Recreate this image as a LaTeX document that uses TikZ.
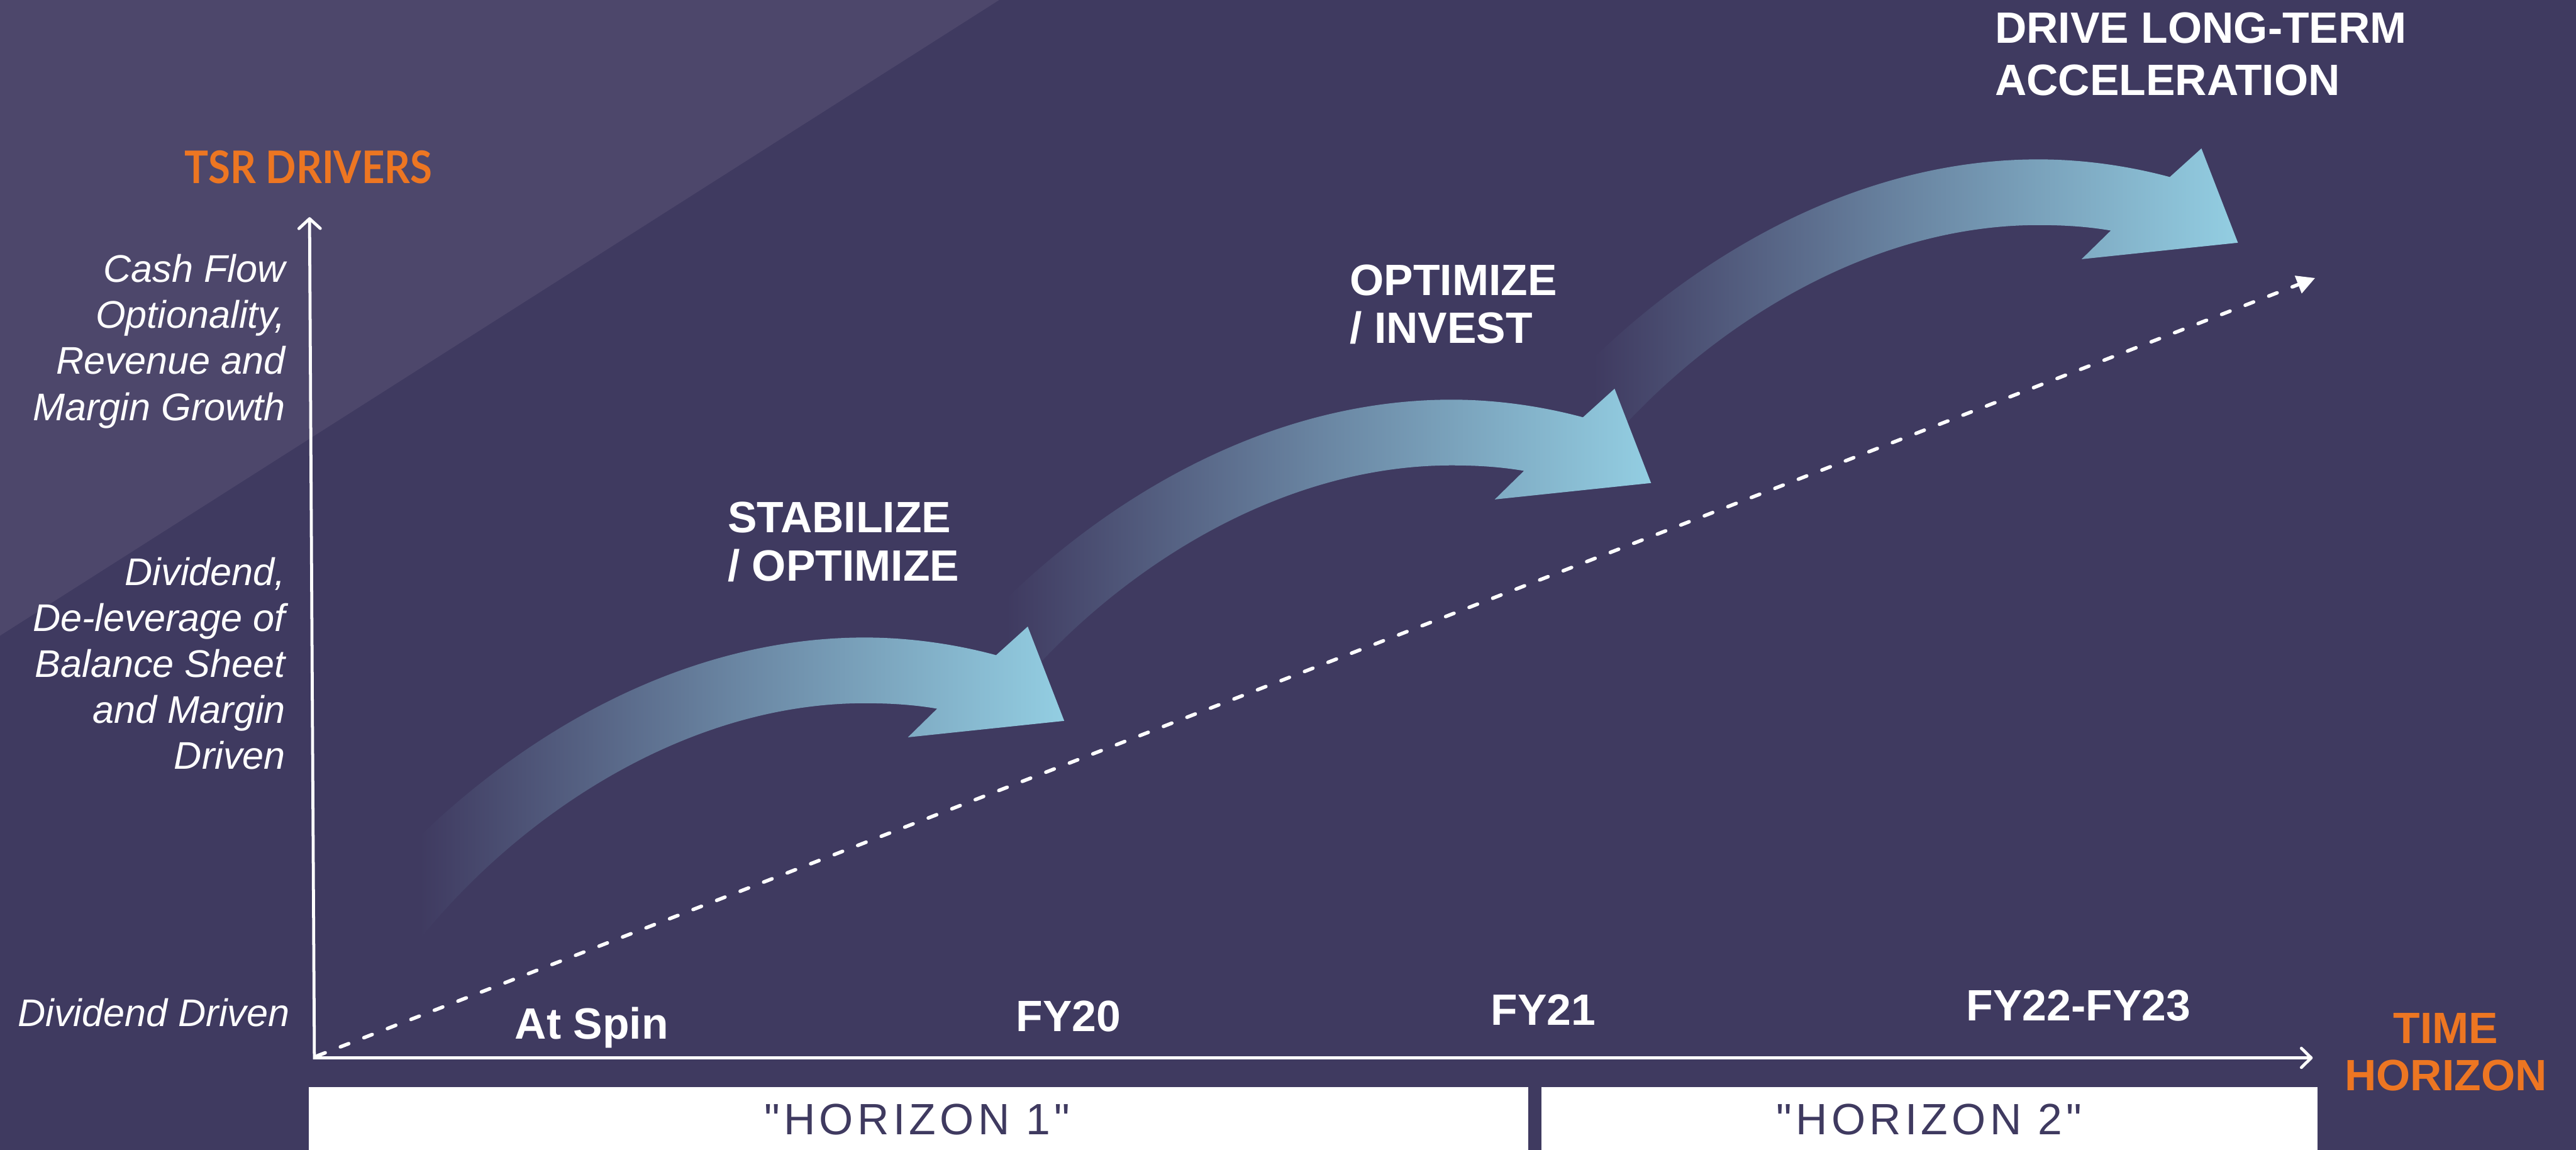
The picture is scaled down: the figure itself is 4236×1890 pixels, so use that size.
\documentclass[tikz,border=0pt]{standalone}
\usepackage{fontspec}
\setmainfont{Liberation Sans}
\newfontfamily\headfont{Lato}[FakeStretch=0.89]
\newfontfamily\spacedfont{Liberation Sans}[LetterSpace=9]
\usetikzlibrary{arrows.meta}

\definecolor{bgdark}{HTML}{3F3A60}
\definecolor{bglight}{HTML}{4D476B}
\definecolor{accent}{HTML}{ED7622}
\definecolor{arrowblue}{HTML}{93CEE2}
\colorlet{arrowmid}{bgdark!50!arrowblue}

% fades from the background into light blue along the arrow
\pgfdeclarehorizontalshading{arrowfade}{100bp}{%
  color(0bp)=(bgdark); color(27bp)=(bgdark);
  color(50bp)=(arrowmid); color(75bp)=(arrowblue); color(100bp)=(arrowblue)}

\tikzset{
  axislbl/.style={text=white, font=\fontsize{18}{21.5}\selectfont\itshape, inner sep=0pt, anchor=base east},
  phase/.style={text=white, font=\fontsize{20.5}{#1}\selectfont\bfseries, inner sep=0pt, anchor=base west},
  phase/.default=22.8pt,
  tick/.style={text=white, font=\fontsize{20.5}{24}\selectfont\bfseries, inner sep=0pt, anchor=base},
  bandlbl/.style={text=bgdark, font=\spacedfont\fontsize{20.5}{24}\selectfont, inner sep=0pt, anchor=base},
  axisline/.style={white, line width=1.4pt, line join=miter,
    arrows={Straight Barb[length=4.6pt, width=10pt, round]-Straight Barb[length=4.6pt, width=9pt, round]}},
  trend/.style={white, line width=1.65pt, line cap=round, dash pattern=on 4.2pt off 7.6pt,
    -{Triangle[length=8.5pt, width=8.5pt]}},
  growth arrow/.pic={
    \shade[shading=arrowfade] (646,1419)
      .. controls (846,1209) and (1122,1048) .. (1422,1048)
      .. controls (1500,1048) and (1575,1060) .. (1638,1077)
      -- (1690,1030) -- (1750,1185) -- (1493,1212) -- (1541,1165)
      .. controls (1500,1158) and (1460,1156) .. (1422,1156)
      .. controls (1122,1156) and (849,1347) .. (692,1542)
      -- cycle;
  },
}

\begin{document}
\begin{tikzpicture}[x=0.01cm, y=-0.01cm]
  % canvas and the lighter corner band
  \useasboundingbox (0,0) rectangle (4236,1890);
  \fill[bgdark] (0,0) rectangle (4236,1890);
  \fill[bglight] (0,0) -- (1643,0) -- (0,1045) -- cycle;

  % three growth steps, drawn back to front
  \pic at (1930,-786) {growth arrow};
  \pic at (965,-391) {growth arrow};
  \pic at (0,0) {growth arrow};

  % axes
  \coordinate (origin) at (517,1739);
  \coordinate (ytop) at (509,357);
  \coordinate (xend) at (3803,1739);
  \draw[axisline] (ytop) -- (origin) -- (xend);

  % trend line
  \coordinate (tstart) at (521,1736);
  \coordinate (tend) at (3807,457);
  \draw[trend] (tstart) -- (tend);

  % axis titles
  \node[text=accent, font=\headfont\bfseries\fontsize{21}{24}\selectfont, inner sep=0pt, anchor=base west]
    (ytitle) at (303,301) {TSR DRIVERS};
  \node[text=accent, font=\fontsize{20.5}{22.2}\selectfont\bfseries, inner sep=0pt, anchor=base]
    (xtitle) at (4022,1715) {\begin{tabular}[t]{@{}c@{}}TIME\\HORIZON\end{tabular}};

  % driver levels
  \node[axislbl] (lvlhigh) at (470,464)
    {\begin{tabular}[t]{@{}r@{}}Cash Flow\\Optionality,\\Revenue and\\Margin Growth\end{tabular}};
  \node[axislbl] (lvlmid) at (470,962)
    {\begin{tabular}[t]{@{}r@{}}Dividend,\\De-leverage of\\Balance Sheet\\and Margin\\Driven\end{tabular}};
  \node[axislbl] (lvllow) at (477,1687) {Dividend Driven};

  % phases
  \node[phase] (stab) at (1196,875)
    {\begin{tabular}[t]{@{}l@{}}STABILIZE\\/ OPTIMIZE\end{tabular}};
  \node[phase=22.2pt] (invest) at (2219,486)
    {\begin{tabular}[t]{@{}l@{}}OPTIMIZE\\/ INVEST\end{tabular}};
  \node[phase=24.5pt] (accel) at (3280,71)
    {\begin{tabular}[t]{@{}l@{}}DRIVE LONG-TERM\\ACCELERATION\end{tabular}};

  % time marks
  \node[tick] (tspin) at (973,1708) {At Spin};
  \node[tick] (tfy20) at (1757,1696) {FY20};
  \node[tick] (tfy21) at (2538,1685) {FY21};
  \node[tick] (tfy22) at (3418,1678) {FY22-FY23};

  % horizon bands
  \fill[white] (508,1787) rectangle (2513,1890);
  \fill[white] (2535,1787) rectangle (3811,1890);
  \node[bandlbl] (hor1) at (1508,1865) {"HORIZON 1"};
  \node[bandlbl] (hor2) at (3172,1865) {"HORIZON 2"};
\end{tikzpicture}
\end{document}
